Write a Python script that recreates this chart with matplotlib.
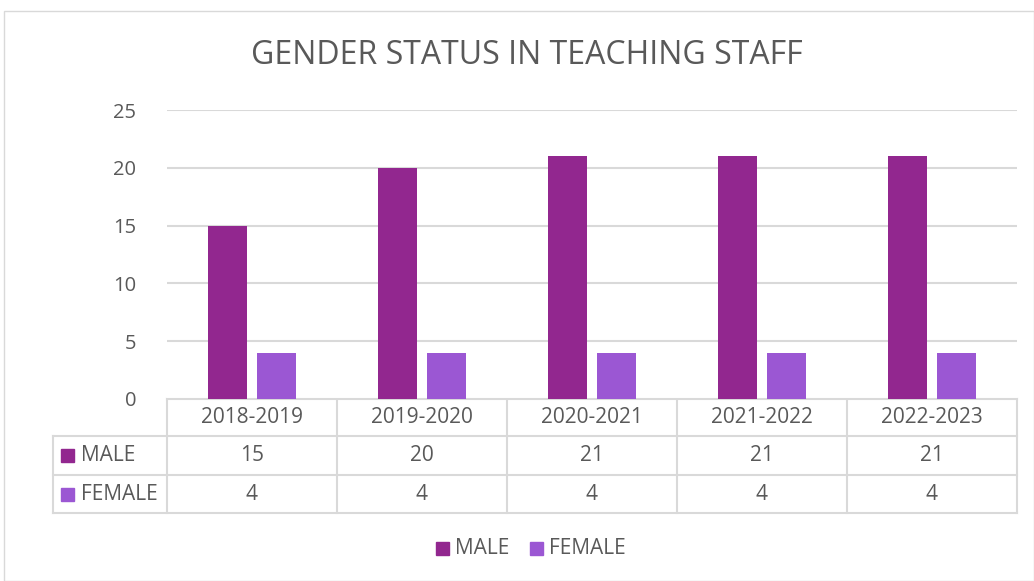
import matplotlib
matplotlib.use('Agg')
import matplotlib.pyplot as plt
from matplotlib import font_manager
import numpy as np

# 字体: 尽量接近 Calibri
names = set(f.name for f in font_manager.fontManager.ttflist)
fam = 'Liberation Sans Narrow' if 'Liberation Sans Narrow' in names else 'Open Sans'
matplotlib.rcParams['font.family'] = [fam, 'DejaVu Sans']

years = ['2018-2019', '2019-2020', '2020-2021', '2021-2022', '2022-2023']
male = [15, 20, 21, 21, 21]
female = [4, 4, 4, 4, 4]
series_names = ['MALE', 'FEMALE']
colors = ['#92278F', '#9B57D3']
txt = '#595959'
grid = '#D9D9D9'

W, H = 1034, 581
fig = plt.figure(figsize=(W / 100, H / 100), dpi=100)

# 像素坐标的覆盖层
ov = fig.add_axes([0, 0, 1, 1])
ov.set_xlim(0, W)
ov.set_ylim(H, 0)
ov.axis('off')
ov.add_patch(plt.Rectangle((4, 11), W - 4, H - 11, fill=False, ec=grid, lw=1))

x0, x1 = 167, 1017
ytop, ybot = 110, 399
ax = fig.add_axes([x0 / W, (H - ybot) / H, (x1 - x0) / W, (ybot - ytop) / H])
x = np.arange(len(years))
bw = 0.224
off = 0.144
ax.bar(x - off, male, bw, color=colors[0], zorder=3)
ax.bar(x + off, female, bw, color=colors[1], zorder=3)
ax.set_xlim(-0.5, len(years) - 0.5)
ax.set_ylim(0, 25)
ax.set_yticks(range(0, 26, 5))
ax.yaxis.grid(True, color=grid, lw=1.5)
ax.set_axisbelow(True)
for s in ax.spines.values():
    s.set_visible(False)
ax.set_xticks([])
ax.tick_params(axis='y', length=0, pad=22, labelsize=14.5, labelcolor=txt)

ov.text(W / 2 + 10, 55, 'GENDER STATUS IN TEACHING STAFF', ha='center', va='center',
        fontsize=23, color=txt)

# 数据表
rows = [399, 436, 475, 513]
colw = (x1 - x0) / len(years)
lc = 53
ov.plot([x0, x1], [rows[0], rows[0]], color=grid, lw=1.5)
for r in rows[1:]:
    ov.plot([lc, x1], [r, r], color=grid, lw=1.5)
for i in range(len(years) + 1):
    xx = x0 + i * colw
    ov.plot([xx, xx], [rows[0], rows[-1]], color=grid, lw=1.5)
ov.plot([lc, lc], [rows[1], rows[-1]], color=grid, lw=1.5)

fs = 15
for i, y in enumerate(years):
    cx = x0 + (i + 0.5) * colw
    ov.text(cx, (rows[0] + rows[1]) / 2, y, ha='center', va='center', fontsize=fs, color=txt)
    ov.text(cx, (rows[1] + rows[2]) / 2, str(male[i]), ha='center', va='center', fontsize=fs, color=txt)
    ov.text(cx, (rows[2] + rows[3]) / 2, str(female[i]), ha='center', va='center', fontsize=fs, color=txt)

for k, nm in enumerate(series_names):
    cy = (rows[k + 1] + rows[k + 2]) / 2
    ov.add_patch(plt.Rectangle((61, cy - 6.5), 13, 13, color=colors[k]))
    ov.text(81, cy, nm, ha='left', va='center', fontsize=fs, color=txt)

# 图例
leg = [(436, 'MALE'), (530, 'FEMALE')]
for k, (lx, nm) in enumerate(leg):
    ov.add_patch(plt.Rectangle((lx, 542), 13, 13, color=colors[k]))
    ov.text(lx + 19, 548.5, nm, ha='left', va='center', fontsize=fs, color=txt)

fig.savefig('out.png', dpi=100)
